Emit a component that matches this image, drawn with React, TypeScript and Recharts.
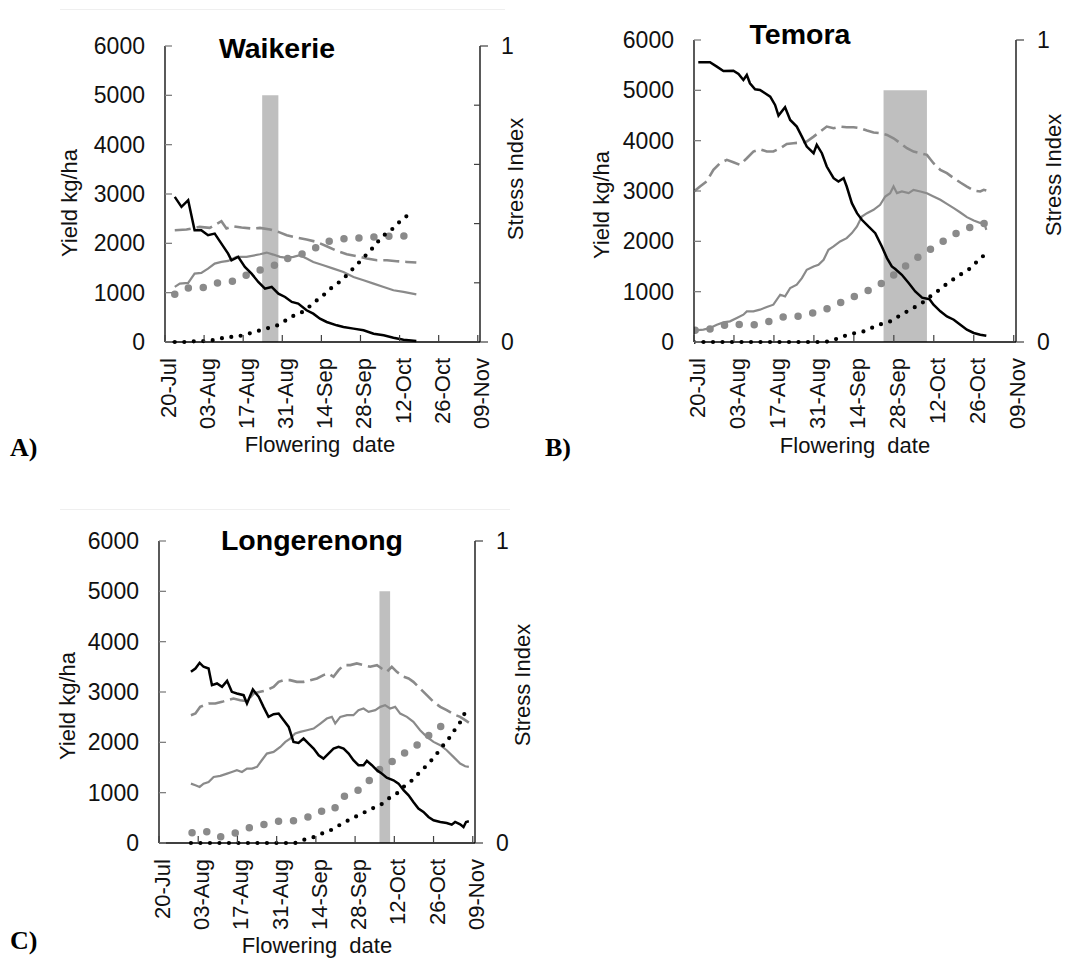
import { ComposedChart, Line, XAxis, YAxis, ReferenceArea } from 'recharts';

const dateTicks = [0, 14, 28, 42, 56, 70, 84, 98, 112];
const dateLabels = ['20-Jul', '03-Aug', '17-Aug', '31-Aug', '14-Sep', '28-Sep', '12-Oct', '26-Oct', '09-Nov'];
const yieldTicks = [0, 1000, 2000, 3000, 4000, 5000, 6000];
const floweringTop = 5000;

// days after 20-Jul, value

// Waikerie
const waikerieYield = [[3.5, 2942], [5.9, 2739], [8.3, 2875], [10.6, 2266], [13.0, 2266], [15.4, 2164], [17.8, 2198], [20.2, 1995], [22.6, 1792], [23.8, 1657], [26.2, 1725], [28.6, 1522], [31.0, 1386], [33.4, 1218], [35.8, 1082], [38.2, 1116], [40.6, 981], [43.0, 913], [45.4, 812], [47.7, 778], [50.7, 643], [53.1, 575], [55.5, 473], [57.9, 406], [61.5, 338], [63.9, 304], [67.5, 271], [71.1, 237], [74.7, 169], [78.3, 135], [81.8, 88], [85.4, 47], [90.0, 20]];
const waikerieDashed = [[3.5, 2266], [7.7, 2280], [12.4, 2334], [16.0, 2313], [20.2, 2449], [22.0, 2300], [24.4, 2347], [27.4, 2320], [31.0, 2300], [34.0, 2313], [37.6, 2280], [40.6, 2232], [43.6, 2164], [47.1, 2117], [50.7, 2077], [54.3, 2029], [57.9, 1941], [61.5, 1847], [65.1, 1779], [68.7, 1738], [72.3, 1691], [75.9, 1657], [79.5, 1657], [83.0, 1637], [86.6, 1623], [90.0, 1610]];
const waikerieGrey = [[3.5, 1116], [5.3, 1184], [8.3, 1197], [10.6, 1387], [13.0, 1400], [15.4, 1488], [17.8, 1590], [20.2, 1623], [22.6, 1644], [25.6, 1725], [29.2, 1725], [34.0, 1779], [36.4, 1813], [38.8, 1772], [41.2, 1725], [43.6, 1705], [46.0, 1725], [48.3, 1759], [50.7, 1691], [53.1, 1623], [56.7, 1556], [60.3, 1488], [63.9, 1420], [67.5, 1319], [71.1, 1251], [74.7, 1184], [78.3, 1116], [81.8, 1048], [85.4, 1015], [90.0, 967]];
const waikerieGreyDots = [[3.5, 967], [8.6, 1103], [14.0, 1103], [18.8, 1197], [24.1, 1231], [29.1, 1353], [33.6, 1454], [38.8, 1542], [43.8, 1691], [48.9, 1779], [54.1, 1914], [59.1, 2050], [64.7, 2097], [70.5, 2110], [76.2, 2131], [81.5, 2151], [87.2, 2151], [90.0, 2155]];
const waikerieStress = [[3.5, 0], [7.1, 0], [11.3, 0.003], [14.9, 0.003], [18.4, 0.008], [22.0, 0.017], [25.4, 0.017], [28.6, 0.025], [32.2, 0.034], [35.8, 0.045], [39.0, 0.051], [42.0, 0.064], [44.8, 0.085], [47.7, 0.093], [50.7, 0.11], [53.0, 0.132], [56.1, 0.152], [58.5, 0.175], [61.0, 0.192], [63.7, 0.212], [66.0, 0.235], [68.5, 0.259], [71.1, 0.285], [73.5, 0.308], [75.9, 0.335], [78.0, 0.358], [80.7, 0.375], [83.3, 0.4], [86.0, 0.423], [89.0, 0.434]];
const waikerieFlowering = [34.8, 40.6];

// Temora
const temoraYield = [[1.5, 5557], [5.6, 5557], [8.0, 5471], [10.3, 5385], [13.8, 5391], [15.6, 5325], [17.3, 5206], [18.5, 5305], [19.6, 5140], [21.4, 5021], [23.1, 5008], [24.9, 4941], [26.7, 4875], [28.4, 4710], [29.6, 4498], [31.9, 4664], [33.7, 4412], [36.0, 4280], [37.8, 4081], [39.5, 3883], [41.9, 3751], [43.0, 3916], [44.8, 3751], [46.5, 3486], [48.9, 3255], [50.6, 3188], [52.4, 3255], [53.5, 3089], [55.3, 2758], [57.1, 2560], [58.8, 2428], [61.1, 2295], [63.5, 2163], [65.8, 1899], [67.6, 1667], [69.3, 1502], [70.5, 1450], [72.8, 1336], [75.2, 1171], [77.5, 1005], [79.9, 880], [82.5, 850], [83.9, 740], [86.3, 609], [88.6, 509], [91.0, 443], [93.3, 344], [95.6, 245], [98.0, 179], [100.3, 146], [102.4, 126]];
const temoraDashed = [[0, 2990], [2.1, 3089], [4.4, 3188], [6.8, 3420], [9.1, 3552], [11.5, 3618], [13.8, 3572], [16.1, 3519], [18.5, 3651], [20.8, 3784], [23.1, 3830], [25.5, 3784], [27.8, 3784], [30.2, 3850], [32.5, 3936], [34.8, 3949], [37.2, 3962], [39.5, 3982], [41.9, 4081], [44.2, 4181], [46.5, 4280], [48.9, 4247], [51.2, 4280], [53.5, 4267], [55.9, 4267], [58.2, 4247], [60.6, 4200], [62.9, 4161], [65.2, 4148], [67.6, 4114], [69.9, 4048], [72.3, 3949], [74.6, 3850], [76.9, 3784], [79.3, 3751], [81.6, 3718], [83.9, 3552], [86.3, 3420], [88.6, 3354], [91.0, 3255], [93.3, 3169], [95.6, 3089], [98.0, 3010], [100.3, 2990], [101.5, 3023], [102.4, 3010]];
const temoraGrey = [[0.4, 232], [3.3, 245], [5.6, 278], [8.0, 344], [10.3, 390], [12.6, 410], [15.0, 476], [17.3, 542], [18.5, 609], [20.8, 609], [23.1, 642], [25.5, 695], [27.8, 741], [30.2, 939], [31.9, 906], [33.7, 1072], [36.0, 1138], [37.8, 1270], [39.5, 1435], [41.9, 1502], [43.6, 1535], [45.4, 1634], [47.1, 1832], [48.9, 1899], [51.2, 1998], [53.5, 2064], [55.3, 2163], [57.1, 2295], [58.8, 2494], [60.6, 2560], [62.9, 2626], [65.2, 2725], [67.0, 2891], [68.7, 2957], [69.9, 3089], [71.1, 2957], [72.8, 2990], [75.2, 2957], [76.9, 3023], [79.3, 2990], [81.6, 2957], [83.9, 2891], [86.3, 2825], [88.6, 2745], [91.0, 2659], [93.3, 2573], [95.6, 2481], [98.0, 2414], [100.3, 2362], [101.5, 2395], [102.4, 2229]];
const temoraGreyDots = [[0.4, 232], [2.3, 232], [8.0, 278], [12.4, 364], [17.3, 344], [21.4, 344], [26.4, 410], [31.1, 496], [35.4, 496], [40.5, 562], [45.0, 622], [49.5, 728], [54.5, 873], [58.8, 959], [63.5, 1092], [68.2, 1250], [72.3, 1435], [76.6, 1614], [81.0, 1779], [85.7, 1945], [90.4, 2117], [95.6, 2256], [100.3, 2348], [102.4, 2360]];
const temoraStress = [[0, 0], [45.4, 0], [48.0, 0.003], [51.8, 0.017], [55.0, 0.027], [59.4, 0.035], [63.0, 0.05], [65.8, 0.06], [68.7, 0.068], [72.0, 0.087], [76.9, 0.113], [80.0, 0.13], [82.8, 0.151], [86.0, 0.173], [88.6, 0.193], [92.0, 0.215], [94.5, 0.23], [97.0, 0.245], [99.2, 0.267], [101.0, 0.28], [102.7, 0.31]];
const temoraFlowering = [66.4, 81.6];

// Longerenong
const longerenongYield = [[11.4, 3401], [13.0, 3467], [14.5, 3580], [15.9, 3501], [17.7, 3467], [18.9, 3136], [20.7, 3169], [22.5, 3103], [24.3, 3222], [26.0, 3003], [27.8, 2970], [30.2, 2937], [31.4, 2771], [33.5, 3050], [35.6, 2904], [37.3, 2705], [39.1, 2506], [40.9, 2559], [42.7, 2572], [44.5, 2440], [46.3, 2307], [48.0, 2009], [49.8, 1989], [51.6, 2075], [53.4, 1976], [55.2, 1876], [57.0, 1744], [58.7, 1677], [60.5, 1777], [62.3, 1876], [64.1, 1909], [65.9, 1876], [67.7, 1777], [69.4, 1644], [71.2, 1545], [73.0, 1545], [74.2, 1631], [76.0, 1545], [77.8, 1445], [79.5, 1379], [81.3, 1299], [83.7, 1246], [85.5, 1180], [87.3, 1048], [89.1, 948], [90.8, 815], [92.6, 683], [94.4, 617], [96.2, 517], [98.0, 451], [100.4, 418], [102.7, 398], [104.5, 365], [105.7, 418], [107.5, 371], [108.7, 318], [109.6, 418], [110.6, 431]];
const longerenongDashed = [[11.4, 2539], [13.0, 2572], [14.7, 2705], [17.7, 2771], [20.1, 2771], [22.5, 2804], [24.3, 2837], [26.6, 2871], [29.0, 2837], [31.4, 2818], [33.8, 2970], [36.1, 3003], [38.5, 3036], [40.9, 3103], [42.7, 3202], [44.5, 3235], [46.8, 3235], [49.2, 3202], [51.6, 3202], [54.0, 3235], [56.4, 3268], [58.7, 3335], [60.5, 3368], [62.3, 3301], [64.1, 3434], [65.9, 3534], [68.3, 3534], [70.6, 3567], [73.0, 3534], [75.4, 3501], [77.8, 3534], [79.5, 3467], [81.3, 3401], [83.1, 3501], [84.9, 3401], [87.3, 3302], [89.1, 3269], [90.8, 3202], [93.2, 3070], [95.6, 2937], [98.0, 2804], [100.4, 2705], [102.7, 2639], [105.1, 2559], [107.5, 2506], [109.3, 2440], [110.6, 2393]];
const longerenongGrey = [[11.4, 1180], [13.0, 1147], [14.5, 1114], [15.9, 1180], [17.7, 1213], [19.5, 1313], [21.9, 1333], [24.3, 1379], [26.0, 1412], [27.8, 1445], [29.6, 1412], [31.4, 1478], [33.2, 1478], [35.0, 1512], [36.7, 1644], [38.5, 1777], [40.9, 1810], [43.3, 1909], [45.1, 2009], [46.8, 2075], [48.6, 2175], [50.4, 2208], [52.8, 2241], [55.2, 2274], [57.6, 2374], [59.9, 2473], [61.7, 2506], [62.9, 2374], [64.7, 2506], [67.1, 2539], [69.4, 2539], [71.2, 2639], [73.0, 2672], [74.8, 2606], [77.2, 2639], [79.0, 2705], [80.7, 2738], [82.5, 2672], [84.3, 2705], [86.1, 2572], [88.5, 2506], [90.8, 2407], [93.2, 2241], [95.6, 2108], [98.0, 2009], [100.4, 1943], [102.7, 1843], [105.1, 1711], [107.5, 1578], [109.3, 1525], [110.6, 1512]];
const longerenongGreyDots = [[11.8, 206], [16.3, 239], [21.5, 119], [26.6, 186], [32.0, 298], [37.3, 365], [42.1, 431], [47.1, 431], [52.4, 497], [57.2, 630], [62.1, 643], [65.6, 915], [70.3, 1014], [74.4, 1200], [77.8, 1425], [82.5, 1591], [86.4, 1744], [90.8, 1889], [95.2, 2088], [99.2, 2274], [103.6, 2407]];
const longerenongStress = [[11.4, 0], [48.6, 0], [51.0, 0.009], [54.6, 0.017], [58.1, 0.031], [61.7, 0.044], [65.3, 0.064], [68.8, 0.081], [72.4, 0.097], [76.0, 0.114], [79.0, 0.125], [81.9, 0.147], [84.9, 0.164], [87.3, 0.186], [89.7, 0.202], [92.0, 0.224], [94.4, 0.246], [96.8, 0.269], [99.2, 0.296], [101.5, 0.324], [103.9, 0.351], [106.3, 0.385], [108.1, 0.407], [109.3, 0.434]];
const longerenongFlowering = [78.7, 82.5];

const FONT = '"Liberation Sans", Arial, sans-serif';
const SERIF = '"Liberation Serif", "Times New Roman", serif';
const GREY = '#8a8a8a';

const pts = (arr: number[][]) => arr.map(([d, v]) => ({ d, v }));

const LeftTick = (p: any) => (
  <g>
    <line x1={p.x} x2={p.x + 7} y1={p.y} y2={p.y} stroke="#808080" strokeWidth={1.3} />
    <text x={p.x - 20} y={p.y + 8} textAnchor="end" fontSize={23} fill="#111" fontFamily={FONT}>
      {p.payload.value}
    </text>
  </g>
);

const RightTick = (p: any) => {
  const v = p.payload.value;
  const edge = v === 0 || v === 1;
  return (
    <g>
      {edge ? (
        <line x1={p.x} x2={p.x + 8} y1={p.y} y2={p.y} stroke="#404040" strokeWidth={1.2} />
      ) : (
        <line x1={p.x - 6} x2={p.x} y1={p.y} y2={p.y} stroke="#404040" strokeWidth={1.2} />
      )}
      {edge && (
        <text x={p.x + 21} y={p.y + 8} fontSize={23} fill="#111" fontFamily={FONT}>
          {v}
        </text>
      )}
    </g>
  );
};

const DateTick = (p: any) => {
  const i = dateTicks.indexOf(p.payload.value);
  return (
    <g>
      <line x1={p.x} x2={p.x} y1={p.y} y2={p.y - 7} stroke="#404040" strokeWidth={1.2} />
      <text
        transform={`translate(${p.x + 11},${p.y + 16}) rotate(-90)`}
        textAnchor="end"
        fontSize={22}
        fill="#111"
        fontFamily={FONT}
      >
        {dateLabels[i]}
      </text>
    </g>
  );
};

interface PanelProps {
  left: number;
  top: number;
  width: number;
  height: number;
  plotTop: number;
  leftW: number;
  rightW: number;
  xH: number;
  stressTicks: number[];
  flowering: number[];
  yieldLine: number[][];
  dashed: number[][];
  grey: number[][];
  greyDots: number[][];
  stress: number[][];
  title: string;
  titlePos: number[];
  yLabelPos: number[];
  sLabelPos: number[];
  xLabelPos: number[];
}

function Panel(props: PanelProps) {
  const { left, top, width, height } = props;
  return (
    <div style={{ position: 'absolute', left, top, width, height }}>
      <ComposedChart
        width={width}
        height={height}
        margin={{ top: props.plotTop, right: 0, bottom: 0, left: 0 }}
      >
        <XAxis
          xAxisId="date"
          type="number"
          dataKey="d"
          domain={[0, 112.8]}
          ticks={dateTicks}
          interval={0}
          allowDataOverflow
          height={props.xH}
          tick={DateTick}
          tickLine={false}
          tickSize={0}
          tickMargin={0}
          axisLine={{ stroke: '#000', strokeWidth: 1.3 }}
        />
        <YAxis
          yAxisId="yield"
          orientation="left"
          type="number"
          domain={[0, 6000]}
          ticks={yieldTicks}
          interval={0}
          width={props.leftW}
          tick={LeftTick}
          tickLine={false}
          tickSize={0}
          tickMargin={0}
          axisLine={{ stroke: '#000', strokeWidth: 1.3 }}
        />
        <YAxis
          yAxisId="stress"
          orientation="right"
          type="number"
          domain={[0, 1]}
          ticks={props.stressTicks}
          interval={0}
          width={props.rightW}
          tick={RightTick}
          tickLine={false}
          tickSize={0}
          tickMargin={0}
          axisLine={{ stroke: '#000', strokeWidth: 1.3 }}
        />
        <ReferenceArea
          xAxisId="date"
          yAxisId="yield"
          x1={props.flowering[0]}
          x2={props.flowering[1]}
          y1={0}
          y2={floweringTop}
          fill="#bfbfbf"
          fillOpacity={1}
          stroke="none"
        />
        <Line
          xAxisId="date"
          yAxisId="yield"
          data={pts(props.dashed)}
          dataKey="v"
          type="linear"
          stroke={GREY}
          strokeWidth={2.6}
          strokeDasharray="16 6"
          dot={false}
          activeDot={false}
          isAnimationActive={false}
        />
        <Line
          xAxisId="date"
          yAxisId="yield"
          data={pts(props.grey)}
          dataKey="v"
          type="linear"
          stroke={GREY}
          strokeWidth={2.2}
          dot={false}
          activeDot={false}
          isAnimationActive={false}
        />
        <Line
          xAxisId="date"
          yAxisId="yield"
          data={pts(props.greyDots)}
          dataKey="v"
          type="linear"
          stroke={GREY}
          strokeWidth={7.5}
          strokeLinecap="round"
          strokeDasharray="0 15"
          dot={false}
          activeDot={false}
          isAnimationActive={false}
        />
        <Line
          xAxisId="date"
          yAxisId="stress"
          data={pts(props.stress)}
          dataKey="v"
          type="linear"
          stroke="#000"
          strokeWidth={4.2}
          strokeLinecap="round"
          strokeDasharray="0 9.5"
          dot={false}
          activeDot={false}
          isAnimationActive={false}
        />
        <Line
          xAxisId="date"
          yAxisId="yield"
          data={pts(props.yieldLine)}
          dataKey="v"
          type="linear"
          stroke="#000"
          strokeWidth={2.5}
          dot={false}
          activeDot={false}
          isAnimationActive={false}
        />
      </ComposedChart>
      <svg
        width={width}
        height={height}
        style={{ position: 'absolute', left: 0, top: 0, pointerEvents: 'none' }}
      >
        <text
          x={props.titlePos[0]}
          y={props.titlePos[1]}
          textAnchor="middle"
          fontSize={28.5}
          fontWeight="bold"
          fill="#000"
          fontFamily={FONT}
        >
          {props.title}
        </text>
        <text
          transform={`translate(${props.yLabelPos[0]},${props.yLabelPos[1]}) rotate(-90)`}
          textAnchor="middle"
          fontSize={22}
          fill="#111"
          fontFamily={FONT}
        >
          Yield kg/ha
        </text>
        <text
          transform={`translate(${props.sLabelPos[0]},${props.sLabelPos[1]}) rotate(-90)`}
          textAnchor="middle"
          fontSize={22}
          fill="#111"
          fontFamily={FONT}
        >
          Stress Index
        </text>
        <text
          x={props.xLabelPos[0]}
          y={props.xLabelPos[1]}
          textAnchor="middle"
          fontSize={22}
          wordSpacing={6}
          fill="#111"
          fontFamily={FONT}
        >
          Flowering date
        </text>
      </svg>
    </div>
  );
}

export default function App() {
  return (
    <div
      style={{
        position: 'absolute',
        left: 0,
        top: 0,
        width: 1071,
        height: 969,
        background: '#fff',
        overflow: 'hidden',
      }}
    >
      <div style={{ position: 'absolute', left: 60, top: 9, width: 445, height: 1, background: '#efefef' }} />
      <div style={{ position: 'absolute', left: 60, top: 509, width: 450, height: 1, background: '#efefef' }} />
      <Panel
        left={0}
        top={0}
        width={540}
        height={470}
        plotTop={46}
        leftW={165}
        rightW={60}
        xH={128}
        stressTicks={[0, 0.2, 0.4, 0.6, 0.8, 1]}
        flowering={waikerieFlowering}
        yieldLine={waikerieYield}
        dashed={waikerieDashed}
        grey={waikerieGrey}
        greyDots={waikerieGreyDots}
        stress={waikerieStress}
        title="Waikerie"
        titlePos={[277, 58]}
        yLabelPos={[77, 203]}
        sLabelPos={[523, 179]}
        xLabelPos={[320, 452]}
      />
      <Panel
        left={530}
        top={0}
        width={540}
        height={470}
        plotTop={40}
        leftW={164}
        rightW={54}
        xH={128}
        stressTicks={[0, 1]}
        flowering={temoraFlowering}
        yieldLine={temoraYield}
        dashed={temoraDashed}
        grey={temoraGrey}
        greyDots={temoraGreyDots}
        stress={temoraStress}
        title="Temora"
        titlePos={[270, 44]}
        yLabelPos={[79, 205]}
        sLabelPos={[531, 175]}
        xLabelPos={[325, 453]}
      />
      <Panel
        left={0}
        top={490}
        width={540}
        height={479}
        plotTop={51}
        leftW={159}
        rightW={65}
        xH={126}
        stressTicks={[0, 1]}
        flowering={longerenongFlowering}
        yieldLine={longerenongYield}
        dashed={longerenongDashed}
        grey={longerenongGrey}
        greyDots={longerenongGreyDots}
        stress={longerenongStress}
        title="Longerenong"
        titlePos={[312, 60]}
        yLabelPos={[75, 216]}
        sLabelPos={[530, 195]}
        xLabelPos={[317, 463]}
      />
      <svg
        width={1071}
        height={969}
        style={{ position: 'absolute', left: 0, top: 0, pointerEvents: 'none' }}
      >
        <text x={10} y={456} fontSize={26} fontWeight="bold" fontFamily={SERIF}>
          A)
        </text>
        <text x={545} y={456} fontSize={26} fontWeight="bold" fontFamily={SERIF}>
          B)
        </text>
        <text x={10} y={949} fontSize={26} fontWeight="bold" fontFamily={SERIF}>
          C)
        </text>
      </svg>
    </div>
  );
}
